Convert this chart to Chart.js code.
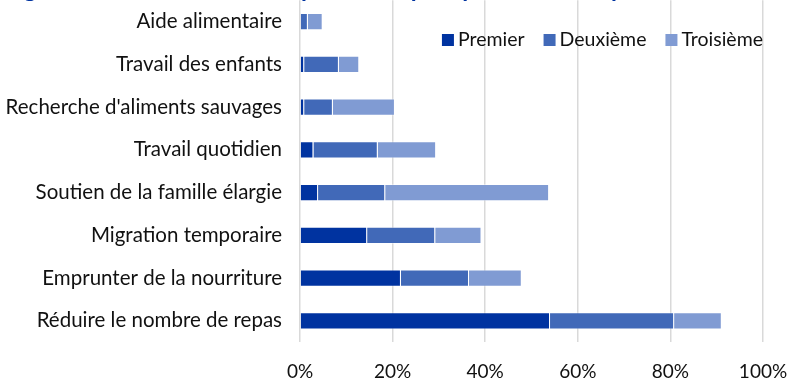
<!DOCTYPE html>
<html lang="fr">
<head>
    <meta charset="UTF-8">
    <title>Mécanismes de réponse</title>
    <script src="https://cdn.jsdelivr.net/npm/chart.js"></script>
    <style>
        html, body { margin: 0; padding: 0; background: #fff; overflow: hidden; }
        #chartContainer {
            position: absolute;
            left: 0;
            top: -30px;
            width: 787px;
            height: 431px;
        }
    </style>
</head>
<body>
    <div id="chartContainer">
        <canvas id="myChart" width="787" height="431"></canvas>
    </div>

    <script>
        // Data: share of households citing each strategy, by rank
        const categories = [
            'Aide alimentaire',
            'Travail des enfants',
            "Recherche d'aliments sauvages",
            'Travail quotidien',
            'Soutien de la famille élargie',
            'Migration temporaire',
            'Emprunter de la nourriture',
            'Réduire le nombre de repas'
        ];
        const premier   = [0.0, 0.9, 0.9, 2.9, 3.9, 14.5, 21.8, 54.0];
        const deuxieme  = [1.7, 7.5, 6.2, 13.9, 14.5, 14.7, 14.7, 26.8];
        const troisieme = [3.2, 4.4, 13.4, 12.6, 35.4, 10.0, 11.4, 10.3];
        const seriesNames = ['Premier', 'Deuxième', 'Troisième'];
        const xTicks = [0, 20, 40, 60, 80, 100];

        const titleText = "Figure 4 : Mécanismes de réponse adoptés par ordre d'importance";
        const fontFamily = 'Lato, "Open Sans", sans-serif';

        // Title sits above the plot, mostly cut off by the top of the page
        const titlePlugin = {
            id: 'pageTitle',
            afterDraw(chart) {
                const ctx = chart.ctx;
                ctx.save();
                ctx.font = 'bold 24px ' + fontFamily;
                ctx.fillStyle = '#0033a0';
                ctx.textBaseline = 'alphabetic';
                ctx.textAlign = 'left';
                ctx.fillText(titleText, 4, 27);
                ctx.restore();
            }
        };

        // Legend drawn inside the plot, right aligned at the top
        const insideLegend = {
            id: 'insideLegend',
            afterDraw(chart) {
                const ctx = chart.ctx;
                const area = chart.chartArea;
                const box = 12, boxGap = 4, itemGap = 19;
                ctx.save();
                ctx.font = '19.5px ' + fontFamily;
                ctx.textBaseline = 'middle';
                const items = chart.data.datasets.map(ds => ({
                    label: ds.label,
                    color: ds.backgroundColor,
                    w: ctx.measureText(ds.label).width
                }));
                let total = items.reduce((s, it) => s + box + boxGap + it.w, 0) + itemGap * (items.length - 1);
                let x = area.right - total;
                const y = 70;
                items.forEach(it => {
                    ctx.fillStyle = it.color;
                    ctx.fillRect(x, y - box / 2, box, box);
                    x += box + boxGap;
                    ctx.fillStyle = '#111';
                    ctx.fillText(it.label, x, y);
                    x += it.w + itemGap;
                });
                ctx.restore();
            }
        };

        const ctx = document.getElementById('myChart').getContext('2d');
        const myChart = new Chart(ctx, {
            type: 'bar',
            data: {
                labels: categories,
                datasets: [
                    { label: seriesNames[0], data: premier, backgroundColor: '#0033a0' },
                    { label: seriesNames[1], data: deuxieme, backgroundColor: '#4169b8' },
                    { label: seriesNames[2], data: troisieme, backgroundColor: '#809bd3' }
                ].map(ds => Object.assign(ds, {
                    borderColor: 'rgba(255,255,255,0.4)',
                    borderWidth: 1,
                    barPercentage: 0.4,
                    categoryPercentage: 1.0
                }))
            },
            options: {
                indexAxis: 'y',
                responsive: false,
                animation: false,
                devicePixelRatio: 1,
                layout: { padding: { left: 0, right: 24, top: 26.5, bottom: 0 } },
                plugins: {
                    legend: { display: false },
                    tooltip: { enabled: false }
                },
                scales: {
                    x: {
                        stacked: true,
                        min: 0,
                        max: 100,
                        afterBuildTicks: scale => { scale.ticks = xTicks.map(v => ({ value: v })); },
                        // keep the edge labels from pushing the plot inwards
                        afterFit: scale => { scale.paddingLeft = 0; scale.paddingRight = 0; },
                        ticks: {
                            callback: v => v + '%',
                            color: '#111',
                            padding: 18,
                            maxRotation: 0,
                            font: { family: fontFamily, size: 19 }
                        },
                        grid: { color: '#d9d9d9', lineWidth: 1.5, drawTicks: false, tickLength: 0 },
                        border: { display: false }
                    },
                    y: {
                        stacked: true,
                        afterFit: scale => { scale.width = 300; },
                        ticks: {
                            color: '#111',
                            padding: 18,
                            font: { family: fontFamily, size: 20.5 }
                        },
                        grid: { display: false, drawTicks: false, tickLength: 0 },
                        border: { display: false }
                    }
                }
            },
            plugins: [titlePlugin, insideLegend]
        });
    </script>
</body>
</html>
